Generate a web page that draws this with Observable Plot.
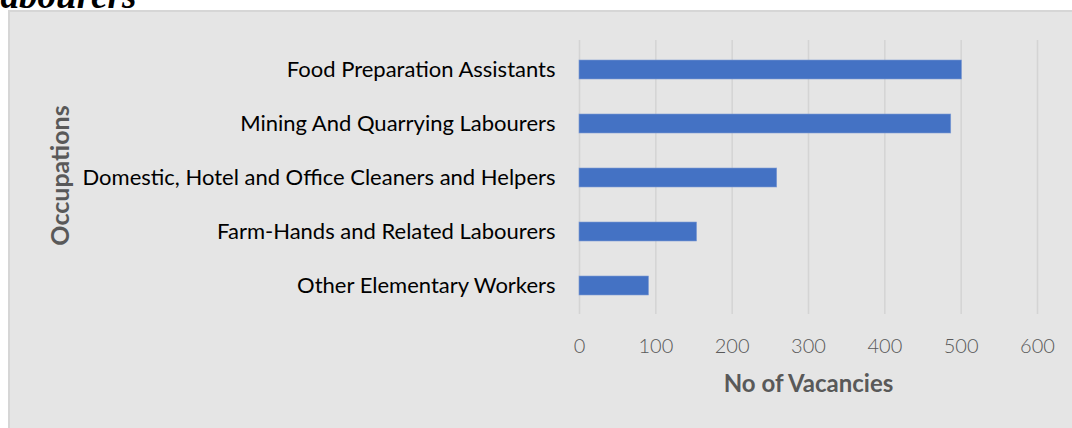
<!DOCTYPE html>
<html>
<head>
<meta charset="utf-8">
<script src="https://cdn.jsdelivr.net/npm/d3@7"></script>
<script src="https://cdn.jsdelivr.net/npm/@observablehq/plot@0.6"></script>
<style>
  html, body { margin: 0; padding: 0; background: #ffffff; width: 1072px; height: 428px; overflow: hidden; }
  #wrap { position: relative; width: 1072px; height: 428px; }
  #panel { position: absolute; left: 8px; top: 10px; width: 1070px; height: 430px; background: #e5e5e5; border: 2px solid #d6d6d6; box-sizing: border-box; }
  #title { position: absolute; left: -22px; top: -23px; font-family: "Liberation Serif", "DejaVu Serif", serif; font-weight: bold; font-style: italic; font-size: 37px; color: #000; white-space: nowrap; line-height: 1; }
  #chart { position: absolute; left: 0; top: 0; }
  #chart svg { background: transparent; }
</style>
</head>
<body>
<div id="wrap">
  <div id="title">Labourers</div>
  <div id="panel"></div>
  <div id="chart"></div>
</div>
<script>
const occupations = [
  "Food Preparation Assistants",
  "Mining And Quarrying Labourers",
  "Domestic, Hotel and Office Cleaners and Helpers",
  "Farm-Hands and Related Labourers",
  "Other Elementary Workers"
];
const vacancies = [501, 487, 259, 154, 91];
const xTicks = [0, 100, 200, 300, 400, 500, 600];
const xTitle = "No of Vacancies";
const yTitle = "Occupations";

const data = occupations.map((o, i) => ({occupation: o, value: vacancies[i]}));

const chart = Plot.plot({
  width: 1072,
  height: 428,
  marginTop: 40,
  marginBottom: 114,
  marginLeft: 579,
  marginRight: 35,
  style: {background: "transparent", fontFamily: "Lato, 'Open Sans', sans-serif"},
  x: {domain: [0, 600]},
  y: {domain: occupations, paddingInner: 0.65, paddingOuter: 0.325},
  marks: [
    Plot.ruleX(xTicks, {stroke: "#d4d4d4", strokeWidth: 1.5}),
    Plot.barX(data, {x: "value", y: "occupation", fill: "#4472c4", stroke: "#7f9bd4", strokeWidth: 0.6}),
    Plot.axisX(xTicks, {tickSize: 0, tickPadding: 24, fontSize: 20, fill: "#595959", label: null, fontFamily: "Lato, sans-serif", fontWeight: 300}),
    Plot.axisY({tickSize: 0, tickPadding: 24, fontSize: 22, fill: "#000000", label: null, fontFamily: "Lato, sans-serif"}),
    Plot.text([xTitle], {frameAnchor: "bottom", dy: 70, text: d => d, fontSize: 24, fontWeight: "bold", fill: "#595959", textAnchor: "middle", lineAnchor: "middle", fontFamily: "Lato, sans-serif"}),
    Plot.text([yTitle], {frameAnchor: "left", dx: -519, dy: -2, rotate: -90, text: d => d, fontSize: 25, fontWeight: "bold", fill: "#595959", textAnchor: "middle", lineAnchor: "middle", fontFamily: "Lato, sans-serif"})
  ]
});
document.getElementById("chart").appendChild(chart);
</script>
</body>
</html>
